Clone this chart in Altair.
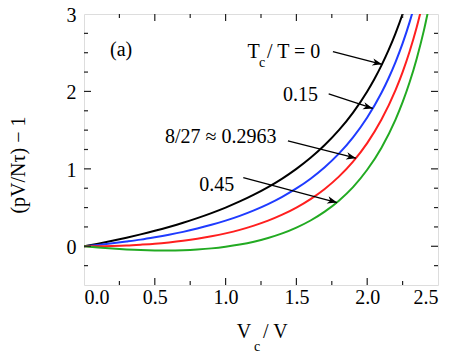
import altair as alt
import pandas as pd

# ---- data ----
x_black = [0, 0.1, 0.2, 0.3, 0.4, 0.5, 0.6, 0.7, 0.8, 0.9, 1.0, 1.1, 1.2, 1.3, 1.4, 1.5, 1.6, 1.7, 1.8, 1.9, 2.0, 2.05, 2.1, 2.15, 2.2, 2.25, 2.3]
y_black = [0, 0.034, 0.071, 0.111, 0.154, 0.200, 0.250, 0.304, 0.364, 0.429, 0.500, 0.579, 0.667, 0.765, 0.875, 1.000, 1.143, 1.308, 1.500, 1.727, 2.000, 2.158, 2.333, 2.529, 2.750, 3.000, 3.286]

x_blue = [0, 0.1, 0.2, 0.3, 0.4, 0.5, 0.6, 0.7, 0.8, 0.9, 1.0, 1.1, 1.2, 1.3, 1.4, 1.5, 1.6, 1.7, 1.8, 1.9, 2.0, 2.1, 2.15, 2.2, 2.25, 2.3, 2.35]
y_blue = [0, 0.018, 0.038, 0.061, 0.086, 0.116, 0.149, 0.186, 0.229, 0.277, 0.331, 0.393, 0.464, 0.545, 0.639, 0.747, 0.873, 1.021, 1.196, 1.407, 1.663, 1.979, 2.167, 2.379, 2.620, 2.898, 3.219]

x_red = [0, 0.1, 0.2, 0.3, 0.4, 0.5, 0.6, 0.7, 0.8, 0.9, 1.0, 1.1, 1.2, 1.3, 1.4, 1.5, 1.6, 1.7, 1.8, 1.9, 2.0, 2.1, 2.2, 2.25, 2.3, 2.35, 2.4]
y_red = [0, 0.001, 0.005, 0.011, 0.021, 0.033, 0.050, 0.071, 0.097, 0.129, 0.167, 0.212, 0.267, 0.331, 0.408, 0.500, 0.610, 0.741, 0.900, 1.094, 1.333, 1.633, 2.017, 2.250, 2.519, 2.832, 3.200]

x_green = [0, 0.1, 0.2, 0.3, 0.4, 0.5, 0.6, 0.7, 0.8, 0.9, 1.0, 1.1, 1.2, 1.3, 1.4, 1.5, 1.6, 1.7, 1.8, 1.9, 2.0, 2.1, 2.2, 2.25, 2.3, 2.35, 2.4, 2.45]
y_green = [0, -0.016, -0.030, -0.041, -0.049, -0.053, -0.054, -0.050, -0.041, -0.027, -0.006, 0.022, 0.059, 0.107, 0.166, 0.241, 0.333, 0.447, 0.589, 0.765, 0.988, 1.270, 1.636, 1.861, 2.121, 2.426, 2.785, 3.214]

series_names = ["0", "0.15", "0.2963", "0.45"]
series_colors = ["#000000", "#1f3bff", "#ff1f1f", "#22aa22"]

x_major = [0.0, 0.5, 1.0, 1.5, 2.0, 2.5]
x_minor = [0.25, 0.75, 1.25, 1.75, 2.25]
y_major = [0, 1, 2, 3]
y_minor = [-0.25, 0.25, 0.5, 0.75, 1.25, 1.5, 1.75, 2.25, 2.5, 2.75]

# annotations
ann_x = [1.155, 1.405, 0.572, 0.814, 0.184]
ann_y = [2.436, 1.878, 1.332, 0.718, 2.457]
ann_text = ["T", "0.15", "8/27 \u2248 0.2963", "0.45", "(a)"]
sub_x = [1.236]
sub_y = [2.316]
sub_text = ["c"]
rest_x = [1.292]
rest_y = [2.436]
rest_text = ["/ T = 0"]

arrow_x0 = [1.758, 1.728, 1.440, 1.125]
arrow_y0 = [2.513, 1.968, 1.362, 0.886]
arrow_x1 = [2.105, 2.040, 1.921, 1.787]
arrow_y1 = [2.350, 1.780, 1.138, 0.565]
arrow_angle = [14, 16, 14, 15.5]

W, H = 354, 271
FONT = "Liberation Serif"
FS = 20

xs = alt.Scale(domain=[0, 2.5], nice=False, zero=False)
ys = alt.Scale(domain=[-0.5, 3], nice=False, zero=False)

rows = []
for name, xv, yv in zip(series_names, [x_black, x_blue, x_red, x_green], [y_black, y_blue, y_red, y_green]):
    for a, b in zip(xv, yv):
        rows.append({"x": a, "y": b, "s": name})
curves_df = pd.DataFrame(rows)

curves = alt.Chart(curves_df).mark_line(strokeWidth=2, clip=True, interpolate="monotone").encode(
    x=alt.X("x:Q", scale=xs, axis=alt.Axis(values=x_major, format=".1f", ticks=False, domain=False, grid=False,
                                           labelFont=FONT, labelFontSize=FS, labelColor="black", labelPadding=2, title=None)),
    y=alt.Y("y:Q", scale=ys, axis=alt.Axis(values=y_major, format="d", ticks=False, domain=False, grid=False,
                                           labelFont=FONT, labelFontSize=FS, labelColor="black", labelPadding=8,
                                           labelOffset=1.5, title=None)),
    color=alt.Color("s:N", scale=alt.Scale(domain=series_names, range=series_colors), legend=None),
    detail="s:N",
)

tick_len_major, tick_len_minor = 7, 4

def xticks(vals, length):
    d = pd.DataFrame({"x": vals})
    bottom = alt.Chart(d).mark_rule(color="#222", strokeWidth=1.2).encode(
        x=alt.X("x:Q", scale=xs), y=alt.value(H), y2=alt.value(H - length))
    top = alt.Chart(d).mark_rule(color="#222", strokeWidth=1.2).encode(
        x=alt.X("x:Q", scale=xs), y=alt.value(0), y2=alt.value(length))
    return [bottom, top]

def yticks(vals, length):
    d = pd.DataFrame({"y": vals})
    left = alt.Chart(d).mark_rule(color="#222", strokeWidth=1.2).encode(
        y=alt.Y("y:Q", scale=ys), x=alt.value(0), x2=alt.value(length))
    right = alt.Chart(d).mark_rule(color="#222", strokeWidth=1.2).encode(
        y=alt.Y("y:Q", scale=ys), x=alt.value(W), x2=alt.value(W - length))
    return [left, right]

ticks = xticks(x_major[1:-1], tick_len_major) + xticks(x_minor, tick_len_minor) + \
        yticks(y_major[:-1], tick_len_major) + yticks(y_minor, tick_len_minor)

ann_df = pd.DataFrame({"x": ann_x, "y": ann_y, "t": ann_text})
ann = alt.Chart(ann_df).mark_text(font=FONT, fontSize=FS, align="left", baseline="alphabetic", color="black").encode(
    x=alt.X("x:Q", scale=xs), y=alt.Y("y:Q", scale=ys), text="t:N")
sub = alt.Chart(pd.DataFrame({"x": sub_x, "y": sub_y, "t": sub_text})).mark_text(
    font=FONT, fontSize=14, align="left", baseline="alphabetic", color="black").encode(
    x=alt.X("x:Q", scale=xs), y=alt.Y("y:Q", scale=ys), text="t:N")
rest = alt.Chart(pd.DataFrame({"x": rest_x, "y": rest_y, "t": rest_text})).mark_text(
    font=FONT, fontSize=FS, align="left", baseline="alphabetic", color="black").encode(
    x=alt.X("x:Q", scale=xs), y=alt.Y("y:Q", scale=ys), text="t:N")

arr_df = pd.DataFrame({"x0": arrow_x0, "y0": arrow_y0, "x1": arrow_x1, "y1": arrow_y1, "a": arrow_angle})
shafts = alt.Chart(arr_df).mark_rule(color="black", strokeWidth=1.3).encode(
    x=alt.X("x0:Q", scale=xs), y=alt.Y("y0:Q", scale=ys), x2="x1:Q", y2="y1:Q")
heads = alt.Chart(arr_df).mark_point(
    shape="M0,0 L-1,-0.38 L-0.72,0 L-1,0.38 Z", filled=True, color="black", opacity=1, size=380).encode(
    x=alt.X("x1:Q", scale=xs), y=alt.Y("y1:Q", scale=ys), angle=alt.Angle("a:Q", scale=None))

# axis titles (with subscripts) as text marks
xt1 = alt.Chart(pd.DataFrame({"t": ["V"]})).mark_text(font=FONT, fontSize=FS, align="left", baseline="alphabetic", color="black").encode(
    x=alt.value(152.7), y=alt.value(324), text="t:N")
xt2 = alt.Chart(pd.DataFrame({"t": ["c"]})).mark_text(font=FONT, fontSize=14, align="left", baseline="alphabetic", color="black").encode(
    x=alt.value(170), y=alt.value(336.5), text="t:N")
xt3 = alt.Chart(pd.DataFrame({"t": ["/ V"]})).mark_text(font=FONT, fontSize=FS, align="left", baseline="alphabetic", color="black").encode(
    x=alt.value(179), y=alt.value(324), text="t:N")
yt = alt.Chart(pd.DataFrame({"t": ["(pV/N\u03c4) \u2212 1"]})).mark_text(font=FONT, fontSize=FS, align="center", baseline="alphabetic", angle=270, color="black").encode(
    x=alt.value(-59), y=alt.value(151), text="t:N")

chart = alt.layer(curves, *ticks, shafts, heads, ann, sub, rest, xt1, xt2, xt3, yt).properties(
    width=W, height=H,
    autosize=alt.AutoSizeParams(type="none"),
    padding={"left": 76, "top": 6, "right": 11, "bottom": 69},
).configure_view(stroke="#222", strokeWidth=1.6).configure(background="white")

chart.save("out.html", embed_options={"renderer": "svg", "actions": False})
